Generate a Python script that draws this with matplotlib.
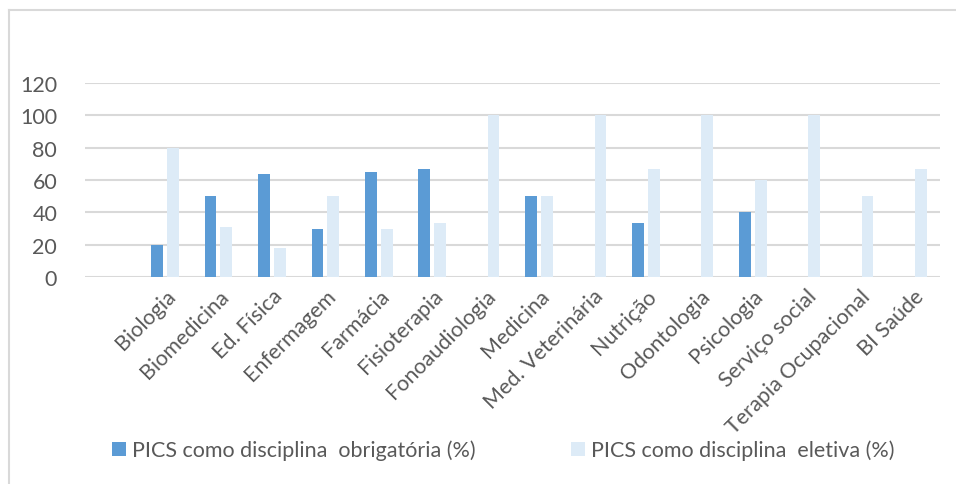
import matplotlib
matplotlib.use("Agg")
import matplotlib.pyplot as plt
from matplotlib.lines import Line2D
import numpy as np

plt.rcParams['font.family'] = ['Lato', 'DejaVu Sans']

categories = ["", "Biologia", "Biomedicina", "Ed. Física", "Enfermagem", "Farmácia",
              "Fisioterapia", "Fonoaudiologia", "Medicina", "Med. Veterinária",
              "Nutrição", "Odontologia", "Psicologia", "Serviço social",
              "Terapia Ocupacional", "BI Saúde"]
obrigatoria = [0, 20, 50, 63.5, 30, 65, 67, 0, 50, 0, 33.3, 0, 40, 0, 0, 0]
eletiva = [0, 80, 31, 18, 50, 30, 33.3, 100, 50, 100, 66.7, 100, 60, 100, 50, 66.7]
yticks = [0, 20, 40, 60, 80, 100, 120]

label_obr = "PICS como disciplina  obrigatória (%)"
label_ele = "PICS como disciplina  eletiva (%)"

dark = "#5B9BD5"
light = "#DDEBF7"
text_c = "#595959"
grid_c = "#D9D9D9"
fs = 15.5

fig = plt.figure(figsize=(9.56, 4.85), dpi=100)
ax = fig.add_axes([85/956, 1-278/485, 855/956, 194/485])

x = np.arange(len(categories))
w = 0.22
b1 = ax.bar(x - 0.15, obrigatoria, width=w, color=dark, linewidth=0, zorder=3, label=label_obr)
b2 = ax.bar(x + 0.145, eletiva, width=w, color=light, linewidth=0, zorder=3, label=label_ele)

ax.set_xlim(-0.5, len(categories) - 0.5)
ax.set_ylim(0, 120)
ax.set_yticks(yticks)
ax.set_yticklabels([str(v) for v in yticks], fontsize=fs, color=text_c)
ax.yaxis.grid(True, color=grid_c, linewidth=1.5, zorder=0)
ax.set_axisbelow(True)
ax.tick_params(axis='y', length=0, pad=20)
ax.tick_params(axis='x', length=0, pad=6)
ax.set_xticks(x)
ax.set_xticklabels(categories, rotation=45, ha='right', va='top',
                   rotation_mode='anchor', fontsize=fs, color=text_c)
for s in ax.spines.values():
    s.set_visible(False)

leg = fig.legend(handles=[b1, b2], loc='center left', bbox_to_anchor=(112/956, 1-451/485),
                 ncol=2, frameon=False, fontsize=fs, handlelength=0.65, handleheight=0.65,
                 handletextpad=0.3, columnspacing=4.4, labelcolor=text_c, borderaxespad=0,
                 borderpad=0)

# outer frame (top and left edges)
fig.add_artist(Line2D([9/956, 9/956], [0, 1-11/485], transform=fig.transFigure,
                      color=grid_c, linewidth=1.5))
fig.add_artist(Line2D([9/956, 1], [1-11/485, 1-11/485], transform=fig.transFigure,
                      color=grid_c, linewidth=1.5))

fig.savefig("out.png", dpi=100, facecolor="white")
